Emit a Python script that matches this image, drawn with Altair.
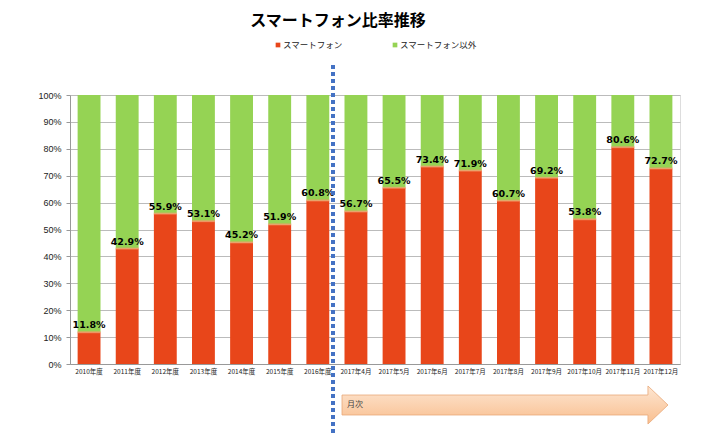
import altair as alt
import pandas as pd

categories = ["2010年度", "2011年度", "2012年度", "2013年度", "2014年度", "2015年度", "2016年度",
              "2017年4月", "2017年5月", "2017年6月", "2017年7月", "2017年8月", "2017年9月",
              "2017年10月", "2017年11月", "2017年12月"]
smartphone = [11.8, 42.9, 55.9, 53.1, 45.2, 51.9, 60.8, 56.7, 65.5, 73.4, 71.9, 60.7, 69.2, 53.8, 80.6, 72.7]
series_names = ["スマートフォン", "スマートフォン以外"]
series_colors = ["#E8461A", "#95D354"]
title_text = "スマートフォン比率推移"
arrow_text = "月次"

rows = []
for c, v in zip(categories, smartphone):
    rows.append({"cat": c, "series": series_names[0], "value": v, "ord": 0})
    rows.append({"cat": c, "series": series_names[1], "value": round(100 - v, 1), "ord": 1})
df = pd.DataFrame(rows)
lab = pd.DataFrame({"cat": categories, "value": smartphone,
                    "label": [f"{v:.1f}%" for v in smartphone]})

JP = "Noto Sans CJK JP"
W, H = 610, 269

xenc = alt.X("cat:N", sort=categories, title=None,
             scale=alt.Scale(paddingInner=0.4, paddingOuter=0.2),
             axis=alt.Axis(labelAngle=0, labelFontSize=6.5, labelFont=JP, labelColor="#222",
                           ticks=False, domainColor="#999", labelPadding=4))
yscale = alt.Scale(domain=[0, 100], nice=False)
yaxis = alt.Axis(values=list(range(0, 101, 10)), labelExpr="datum.value + '%'",
                 labelFontSize=9, labelFont="Liberation Sans", labelColor="#222",
                 gridColor="#bbbbbb", domainColor="#999", tickColor="#999",
                 tickSize=4, labelPadding=5, labelOverlap=False)

bars = alt.Chart(df).mark_bar().encode(
    x=xenc,
    y=alt.Y("value:Q", stack="zero", title=None, scale=yscale, axis=yaxis),
    color=alt.Color("series:N", scale=alt.Scale(domain=series_names, range=series_colors), legend=None),
    order=alt.Order("ord:Q"),
)

ylab = alt.Y("value:Q", title=None, scale=yscale, axis=yaxis)

tops = alt.Chart(lab).mark_tick(color="#F59A6A", thickness=2, size=23).encode(
    x=xenc, y=ylab)

labels = alt.Chart(lab).mark_text(fontWeight="bold", fontSize=9.5, font="DejaVu Sans",
                                  baseline="bottom", dy=-2, color="#000").encode(
    x=xenc, y=ylab, text="label:N")

title = alt.Chart(pd.DataFrame({"t": [title_text]})).mark_text(
    font=JP, fontSize=16, fontWeight="bold", color="#000", align="center", baseline="middle").encode(
    x=alt.value(268), y=alt.value(-74), text="t:N")

leg = pd.DataFrame({"name": series_names, "px": [208, 325]})
leg_sq = alt.Chart(leg).mark_square(size=22, opacity=1).encode(
    x=alt.X("px:Q", scale=None), y=alt.value(-50),
    color=alt.Color("name:N", scale=alt.Scale(domain=series_names, range=series_colors), legend=None))
leg_tx = alt.Chart(leg).mark_text(font=JP, fontSize=8.5, align="left", baseline="middle", dx=5, color="#222").encode(
    x=alt.X("px:Q", scale=None), y=alt.value(-50), text="name:N")

divider = alt.Chart(pd.DataFrame({"a": [0]})).mark_rule(
    color="#4472C4", strokeWidth=4, strokeDash=[4, 3]).encode(
    x=alt.value(263), y=alt.value(-30), y2=alt.value(342))

grad = alt.Gradient(gradient="linear", x1=0, x2=0, y1=0, y2=1,
                    stops=[alt.GradientStop(color="#FDE6D2", offset=0),
                           alt.GradientStop(color="#F9BE8E", offset=1)])
arrow_path = "M-1,-0.0613L0.877,-0.0613L0.877,-0.1166L1,0L0.877,0.1166L0.877,0.0613L-1,0.0613Z"
arrow = alt.Chart(pd.DataFrame({"a": [0]})).mark_point(
    shape=arrow_path, size=326 * 326, filled=True, fill=grad, stroke="#E8A878",
    strokeWidth=0.8, opacity=1).encode(x=alt.value(435), y=alt.value(310))
arrow_lbl = alt.Chart(pd.DataFrame({"t": [arrow_text]})).mark_text(
    font=JP, fontSize=8, align="left", baseline="middle", color="#444").encode(
    x=alt.value(277), y=alt.value(310), text="t:N")

chart = alt.layer(bars, tops, labels, divider, arrow, arrow_lbl, title, leg_sq, leg_tx).properties(
    width=W, height=H,
    autosize=alt.AutoSizeParams(type="none"),
    padding={"left": 62, "top": 87, "right": 20, "bottom": 70},
).configure_view(stroke=None).configure(background="white")

chart.save("out.html", embed_options={"renderer": "svg", "actions": False})
